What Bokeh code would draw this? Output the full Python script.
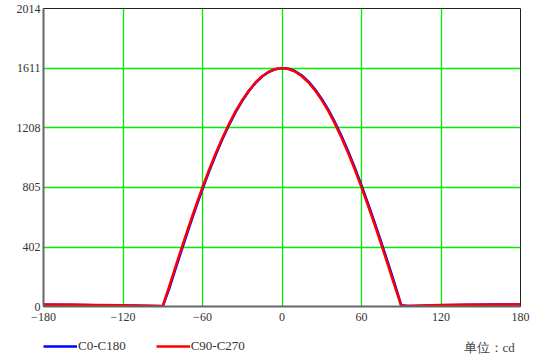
from bokeh.plotting import figure
from bokeh.layouts import column
from bokeh.models import Range1d, FixedTicker, Legend, LegendItem, Label
from bokeh.embed import file_html
from bokeh.resources import INLINE

angles = [-180, -160, -140, -120, -100, -95,
          -90, -85, -80, -75, -70, -65, -60, -55, -50, -45,
          -40, -35, -30, -25, -20, -15, -10, -5, 0, 5, 10, 15, 20, 25, 30, 35, 40, 45,
          50, 55, 60, 65, 70, 75, 80, 85, 90,
          95, 100, 120, 140, 160, 180]

c0_c180 = [12, 11, 9, 7, 4, 3,
           2, 125, 265, 402, 537, 668, 793, 913, 1026, 1130,
           1226, 1313, 1390, 1456, 1511, 1554, 1585, 1604, 1611, 1607, 1590, 1561, 1520, 1467,
           1403, 1329, 1244, 1150, 1047, 936, 818, 694, 565, 431, 294, 155, 8,
           3, 4, 9, 11, 13, 14]

c90_c270 = [13, 12, 10, 8, 5, 3,
            3, 140, 280, 417, 551, 681, 806, 924, 1036, 1139,
            1234, 1320, 1395, 1460, 1514, 1556, 1587, 1605, 1611, 1605, 1587, 1556, 1514, 1460,
            1395, 1320, 1234, 1139, 1036, 924, 806, 681, 551, 417, 280, 140, 5,
            3, 5, 10, 12, 13, 15]

x_ticks = [-180, -120, -60, 0, 60, 120, 180]
y_ticks = [0, 402, 805, 1208, 1611, 2014]
series_names = ["C0-C180", "C90-C270"]
series_colors = ["#0000ff", "#ff0000"]
unit_text = "单位：cd"

p = figure(width=554, height=330, output_backend="svg", toolbar_location=None,
           x_range=Range1d(-180, 180), y_range=Range1d(0, 2014),
           min_border_left=43, min_border_right=34, min_border_top=8, min_border_bottom=24)

p.background_fill_color = "white"
p.border_fill_color = "white"
p.outline_line_color = "#222222"
p.outline_line_width = 1

for ax, ticks in ((p.xaxis, x_ticks), (p.yaxis, y_ticks)):
    ax.ticker = FixedTicker(ticks=ticks)
    ax.major_label_text_font = "serif"
    ax.major_label_text_font_size = "12px"
    ax.major_label_text_color = "#333333"
    ax.axis_line_color = "#666666"
    ax.axis_line_width = 2
    ax.major_tick_line_color = None
    ax.minor_tick_line_color = None
    ax.major_tick_out = 0
    ax.major_tick_in = 0

p.xaxis.major_label_overrides = {t: ("\u2212" + str(-t) if t < 0 else str(t)) for t in x_ticks}
p.xaxis.major_label_standoff = 6
p.yaxis.major_label_standoff = 3

p.grid.grid_line_color = "#00ee00"
p.grid.grid_line_width = 1.3
p.grid.grid_line_alpha = 1.0

series = [c0_c180, c90_c270]
for vals, c in zip(series, series_colors):
    p.line(angles, vals, line_color=c, line_width=2.5)

# legend strip under the chart (its frame is aligned with the chart's frame)
p2 = figure(width=554, height=28, output_backend="svg", toolbar_location=None,
            x_range=Range1d(-180, 180), y_range=Range1d(-3000, -2000),
            min_border_left=43, min_border_right=34, min_border_top=0, min_border_bottom=0)
p2.axis.visible = False
p2.grid.visible = False
p2.outline_line_color = None
p2.background_fill_color = "white"
p2.border_fill_color = "white"

# same series drawn in a range that keeps them out of view; used only for legend glyphs
keys = [p2.line(angles, vals, line_color=c, line_width=2.5) for vals, c in zip(series, series_colors)]
legend = Legend(items=[LegendItem(label=n, renderers=[r]) for n, r in zip(series_names, keys)],
                orientation="horizontal", location=(0, 4),
                padding=0, margin=0, spacing=30, glyph_width=34, glyph_height=14,
                label_standoff=1, label_text_font="serif",
                label_text_font_size="13px", label_text_color="#333333",
                border_line_color=None, background_fill_alpha=0)
p2.add_layout(legend, "center")
p2.add_layout(Label(x=420, y=11, x_units="screen", y_units="screen",
                    text=unit_text, text_font="serif", text_baseline="middle",
                    text_font_size="13px", text_color="#444444"))

layout = column(p, p2, spacing=0)
open("out.html", "w").write(file_html(layout, INLINE))
